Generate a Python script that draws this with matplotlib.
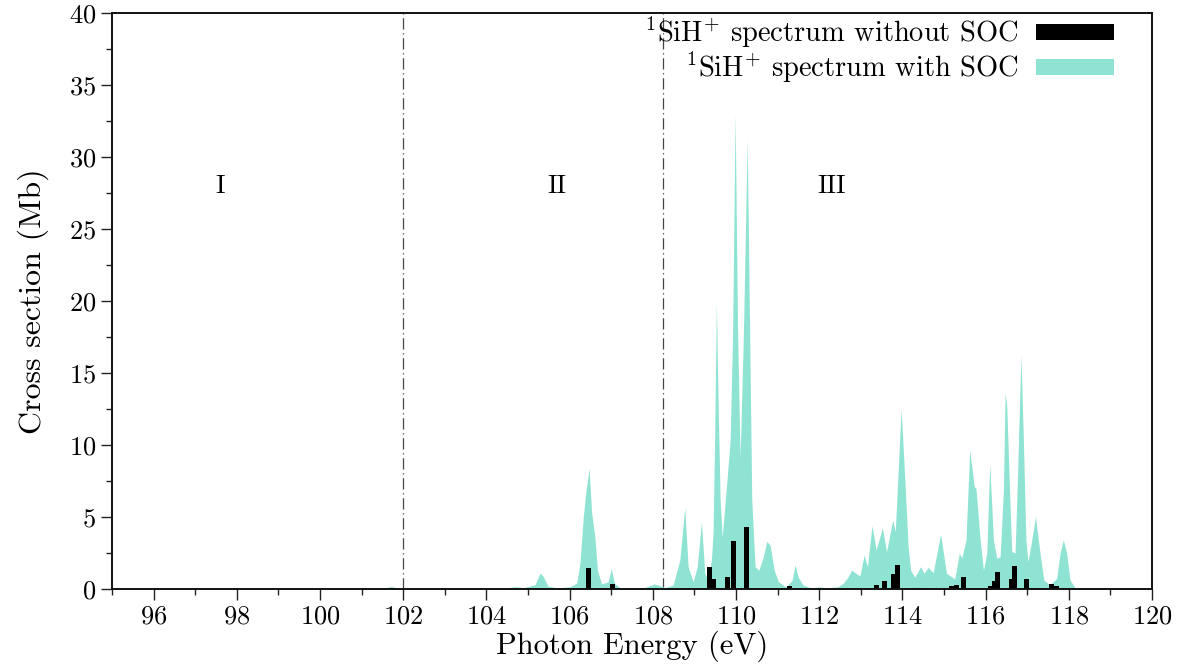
import matplotlib
matplotlib.use("Agg")
import matplotlib.pyplot as plt
from matplotlib.patches import Patch

# SOC spectrum (photon energy in eV, cross section in Mb)
soc_energy = [95.0, 99.0, 101.5, 101.72, 101.9, 104.4, 104.69, 104.9, 105.17, 105.29,
              105.36, 105.48, 105.7, 106.0, 106.17, 106.25, 106.33, 106.39, 106.47, 106.53,
              106.61, 106.67, 106.77, 106.93, 107.0, 107.08, 107.2, 107.8, 108.05, 108.3,
              108.49, 108.65, 108.77, 108.85, 108.97, 109.07, 109.17, 109.25, 109.33, 109.41,
              109.45, 109.49, 109.53, 109.57, 109.62, 109.67, 109.78, 109.86, 109.92, 109.98,
              110.04, 110.10, 110.18, 110.27, 110.32, 110.38, 110.46, 110.55, 110.66, 110.74,
              110.82, 110.92, 111.02, 111.2, 111.35, 111.42, 111.5, 111.61, 111.8, 112.0,
              112.2, 112.45, 112.58, 112.70, 112.78, 112.88, 112.98, 113.08, 113.16, 113.27,
              113.37, 113.52, 113.62, 113.77, 113.83, 113.97, 114.06, 114.14, 114.20, 114.30,
              114.44, 114.52, 114.62, 114.74, 114.92, 115.06, 115.26, 115.37, 115.43, 115.53,
              115.62, 115.73, 115.77, 115.87, 115.95, 116.03, 116.10, 116.19, 116.27, 116.35,
              116.43, 116.47, 116.51, 116.59, 116.63, 116.71, 116.77, 116.85, 116.91, 116.97,
              117.02, 117.11, 117.20, 117.31, 117.40, 117.55, 117.71, 117.79, 117.87, 117.95,
              118.03, 118.15, 118.5, 120.0]
soc_sigma = [0.0, 0.02, 0.03, 0.18, 0.03, 0.05, 0.16, 0.1, 0.3, 1.1,
             0.9, 0.2, 0.08, 0.15, 0.4, 1.8, 5.0, 6.7, 8.38, 5.3,
             3.6, 1.3, 0.35, 0.5, 1.43, 0.4, 0.1, 0.1, 0.35, 0.1,
             0.28, 2.0, 5.67, 1.55, 0.5, 1.55, 4.67, 1.1, 0.6, 2.0,
             3.9, 10.8, 19.9, 13.1, 6.2, 3.6, 7.4, 10.3, 17.8, 33.0,
             17.8, 9.1, 17.8, 31.2, 20.0, 6.2, 1.55, 1.3, 2.24, 3.3,
             3.06, 1.3, 0.5, 0.15, 0.6, 1.67, 0.8, 0.28, 0.08, 0.15,
             0.08, 0.15, 0.4, 0.86, 1.32, 1.1, 0.9, 2.36, 1.55, 4.4,
             2.7, 4.26, 2.6, 4.8, 3.98, 12.5, 7.6, 2.9, 1.3, 0.81,
             1.55, 1.09, 1.5, 1.13, 3.82, 1.09, 0.7, 2.48, 2.15, 3.4,
             9.65, 7.1, 7.0, 3.4, 1.3, 2.5, 8.7, 3.4, 2.13, 2.24,
             6.9, 13.6, 12.7, 5.7, 2.6, 2.5, 8.0, 16.25, 10.3, 3.4,
             1.9, 3.4, 5.02, 2.48, 0.62, 0.28, 0.74, 2.48, 3.4, 2.48,
             0.62, 0.1, 0.02, 0.0]

# spectrum without SOC (stick lines)
nosoc_energy = [99.4, 106.45, 107.03, 109.36, 109.47, 109.80, 109.94, 110.25, 111.28,
                113.38, 113.57, 113.72, 113.78, 113.89, 114.30, 114.40, 115.18, 115.30,
                115.46, 116.13, 116.22, 116.29, 116.62, 116.69, 116.99, 117.10, 117.58,
                117.70]
nosoc_sigma = [0.03, 1.48, 0.37, 1.50, 0.69, 0.83, 3.33, 4.30, 0.20,
               0.28, 0.56, 0.10, 1.04, 1.64, 0.10, 0.10, 0.22, 0.30,
               0.83, 0.20, 0.55, 1.18, 0.69, 1.60, 0.69, 0.08, 0.35,
               0.20]

region_edges = [102.0, 108.25]
region_names = ["I", "II", "III"]
region_x = [97.6, 105.7, 112.3]

SOC_COLOR = "#8fe3d2"

plt.rcParams["font.family"] = ["cmr10", "DejaVu Serif"]
plt.rcParams["mathtext.fontset"] = "cm"
plt.rcParams["axes.formatter.use_mathtext"] = True

fig = plt.figure(figsize=(11.81, 6.70), dpi=100)
ax = fig.add_axes([0.0948, 0.1209, 0.8806, 0.8597])

ax.fill_between(soc_energy, soc_sigma, color=SOC_COLOR, lw=0, zorder=1)
ax.bar(nosoc_energy, nosoc_sigma, width=0.12, color="black", zorder=2)

for xe in region_edges:
    ax.axvline(xe, color="#444444", lw=0.9, ls=(0, (9, 3, 1, 3)), zorder=0)
for name, xr in zip(region_names, region_x):
    ax.text(xr, 28, name, ha="center", va="center", fontsize=19)

ax.set_xlim(95, 120)
ax.set_ylim(0, 40)
ax.set_xticks(range(96, 121, 2))
ax.set_xticks(range(95, 121, 1), minor=True)
ax.set_yticks(range(0, 41, 5))
ax.set_yticks([v / 2 for v in range(5, 80, 10)], minor=True)
ax.tick_params(which="both", direction="out", top=False, right=False,
               labelsize=19, width=1.0, color="#222222")
ax.tick_params(which="major", length=8)
ax.tick_params(which="minor", length=4)
for sp in ax.spines.values():
    sp.set_linewidth(1.4)
    sp.set_color("#111111")

ax.set_xlabel("Photon Energy (eV)", fontsize=22, labelpad=1)
ax.set_ylabel("Cross section (Mb)", fontsize=23, labelpad=14)

handles = [Patch(facecolor="black"), Patch(facecolor=SOC_COLOR)]
labels = [r"$^{1}\mathrm{SiH}^{+}$ spectrum without SOC",
          r"$^{1}\mathrm{SiH}^{+}$ spectrum with SOC"]
ax.legend(handles, labels, loc="upper right", bbox_to_anchor=(0.9635, 0.996),
          frameon=False, markerfirst=False, fontsize=20.5, borderpad=0,
          borderaxespad=0, handlelength=2.75, handleheight=0.52,
          handletextpad=0.62, labelspacing=0.0)

fig.savefig("out.png", dpi=100)
